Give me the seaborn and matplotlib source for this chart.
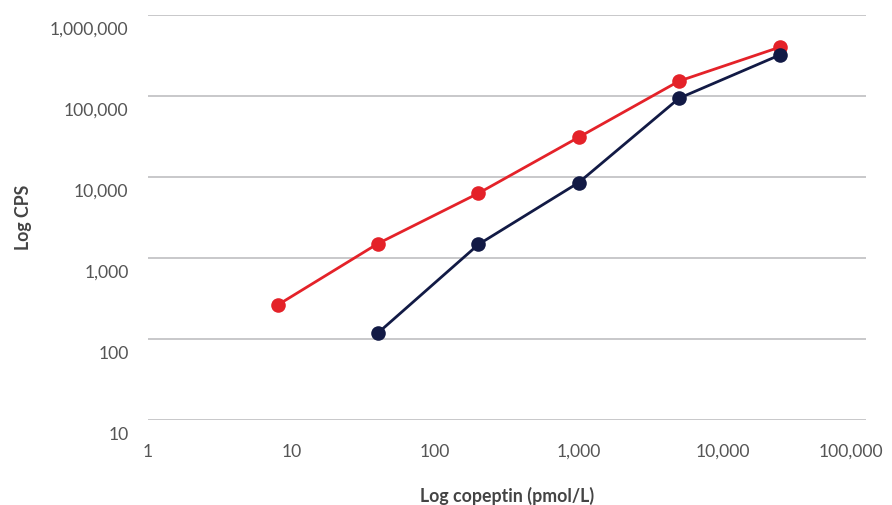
import numpy as np
import pandas as pd
import matplotlib
matplotlib.use("Agg")
import matplotlib.pyplot as plt
import matplotlib.transforms as mtransforms
from matplotlib.ticker import FixedLocator, FuncFormatter
import seaborn as sns

# copeptin standards (pmol/L), 1:5 dilution series
conc_red  = [8, 40, 200, 1000, 5000, 25000]
cps_red   = [263, 1510, 6300, 31000, 153000, 400000]
conc_navy = [40, 200, 1000, 5000, 25000]
cps_navy  = [119, 1470, 8550, 94000, 320000]

series_names = ["red", "navy"]
series_colors = {"red": "#E42229", "navy": "#121A45"}

x_ticks = [1, 10, 100, 1000, 10000, 100000]
y_ticks = [10, 100, 1000, 10000, 100000, 1000000]

df = pd.concat([
    pd.DataFrame({"conc": conc_red, "cps": cps_red, "series": "red"}),
    pd.DataFrame({"conc": conc_navy, "cps": cps_navy, "series": "navy"}),
], ignore_index=True)

sns.set_style("white")
plt.rcParams["font.family"] = ["Lato", "DejaVu Sans"]

fig, ax = plt.subplots(figsize=(8.92, 5.05), dpi=100)
fig.subplots_adjust(left=148 / 892, right=866 / 892, top=1 - 15 / 505, bottom=1 - 420 / 505)

sns.lineplot(data=df, x="conc", y="cps", hue="series", hue_order=series_names,
             palette=series_colors, marker="o", markersize=10.5, markeredgewidth=0,
             linewidth=2.0, sort=False, legend=False, ax=ax, zorder=3)

ax.set_xscale("log")
ax.set_yscale("log")
ax.set_xlim(1, 100000)
ax.set_ylim(10, 1000000)

fmt = FuncFormatter(lambda v, _: f"{int(round(v)):,}")
ax.xaxis.set_major_locator(FixedLocator(x_ticks))
ax.yaxis.set_major_locator(FixedLocator(y_ticks))
ax.xaxis.set_major_formatter(fmt)
ax.yaxis.set_major_formatter(fmt)
ax.minorticks_off()

ax.grid(axis="y", color="#C4C4C6", linewidth=1.3)
ax.grid(axis="x", visible=False)
for s in ax.spines.values():
    s.set_visible(False)

ax.tick_params(axis="both", length=0, labelsize=12.6, labelcolor="#555555")
ax.tick_params(axis="y", pad=14)
ax.tick_params(axis="x", pad=17)

# y labels sit a little below their gridlines
offset = mtransforms.ScaledTranslation(0, -13.5 / 100, fig.dpi_scale_trans)
for t in ax.yaxis.get_major_ticks():
    t.label1.set_transform(t.label1.get_transform() + offset)

# the last x label is pulled in so it stays inside the figure
xt = ax.xaxis.get_major_ticks()
xt[-1].label1.set_transform(xt[-1].label1.get_transform()
                            + mtransforms.ScaledTranslation(-15 / 100, 0, fig.dpi_scale_trans))

ax.set_xlabel("Log copeptin (pmol/L)", fontsize=12.8, fontweight="bold", color="#444444", labelpad=20)
ax.set_ylabel("Log CPS", fontsize=12.8, fontweight="bold", color="#444444", labelpad=13)

fig.savefig("out.png", dpi=100)
